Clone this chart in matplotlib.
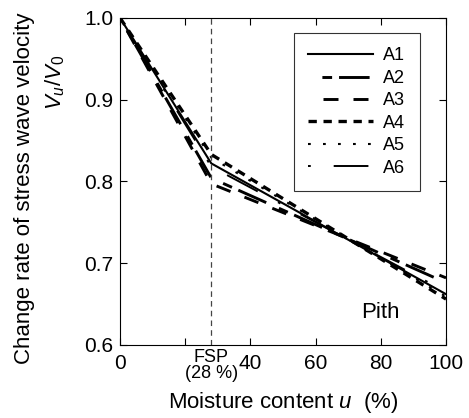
import numpy as np
import matplotlib
matplotlib.use("Agg")
import matplotlib.pyplot as plt

plt.rcParams['font.family'] = ['Liberation Sans', 'DejaVu Sans']
plt.rcParams['mathtext.fontset'] = 'custom'
plt.rcParams['mathtext.it'] = 'Liberation Sans:italic'
plt.rcParams['mathtext.rm'] = 'Liberation Sans'
plt.rcParams['lines.scale_dashes'] = False

# Moisture content (%) at the break points
u = [0, 28, 100]
# Change rate V_u/V_0 for each specimen
A1 = [1.0, 0.822, 0.662]
A2 = [1.0, 0.804, 0.676]
A3 = [1.0, 0.797, 0.682]
A4 = [1.0, 0.833, 0.656]
A5 = [1.0, 0.829, 0.659]
A6 = [1.0, 0.818, 0.665]
labels = ['A1', 'A2', 'A3', 'A4', 'A5', 'A6']
fsp = 28

fig = plt.figure(figsize=(4.69, 4.18), dpi=100)
ax = fig.add_axes([0.256, 0.175, 0.695, 0.782])

# patrones de trazo en puntos
estilos = [
    dict(ls='-', lw=1.5),
    dict(ls=(34, (7, 5, 22, 10)), lw=2.1),
    dict(ls=(10.8, (10.8, 10.8)), lw=2.1),
    dict(ls=(0, (6, 4.8)), lw=2.4),
    dict(ls=(0, (2, 8.8)), lw=1.5),
    dict(ls=(0, (2, 16.5, 25, 16.5)), lw=1.4),
]
for datos, lab, st in zip([A1, A2, A3, A4, A5, A6], labels, estilos):
    ax.plot(u, datos, color='k', label=lab, **st)

ax.axvline(fsp, color='#444444', lw=0.9, ls=(0, (4, 3)))

ax.set_xlim(0, 100)
ax.set_ylim(0.6, 1.0)
ax.set_xticks([0, 20, 40, 60, 80, 100])
ax.set_xticklabels(['0', '', '40', '60', '80', '100'])
ax.set_yticks([0.6, 0.7, 0.8, 0.9, 1.0])
ax.set_yticklabels(['0.6', '0.7', '0.8', '0.9', '1.0'])
ax.tick_params(direction='in', top=True, right=True, length=5, labelsize=15)
ax.tick_params(axis='x', pad=6.5)
ax.tick_params(axis='y', pad=5)

ax.text(fsp, 0.5955, 'FSP\n(28 %)', ha='center', va='top', fontsize=13, linespacing=0.95)
ax.text(80, 0.639, 'Pith', ha='center', va='center', fontsize=16)

ax.set_xlabel('Moisture content $u$  (%)', fontsize=16, labelpad=12)
fig.text(0.053, 0.549, 'Change rate of stress wave velocity', rotation=90,
         ha='center', va='center', fontsize=16)
fig.text(0.117, 0.804, '$V_u/V_0$', rotation=90, ha='center', va='center', fontsize=16)

leg = ax.legend(loc='upper right', bbox_to_anchor=(0.92, 0.954), borderaxespad=0,
                fontsize=13, handlelength=3.6, handletextpad=0.55, labelspacing=0.3,
                fancybox=False, edgecolor='k', borderpad=0.8)
leg.get_frame().set_linewidth(0.8)

fig.savefig('out.png', dpi=100)
